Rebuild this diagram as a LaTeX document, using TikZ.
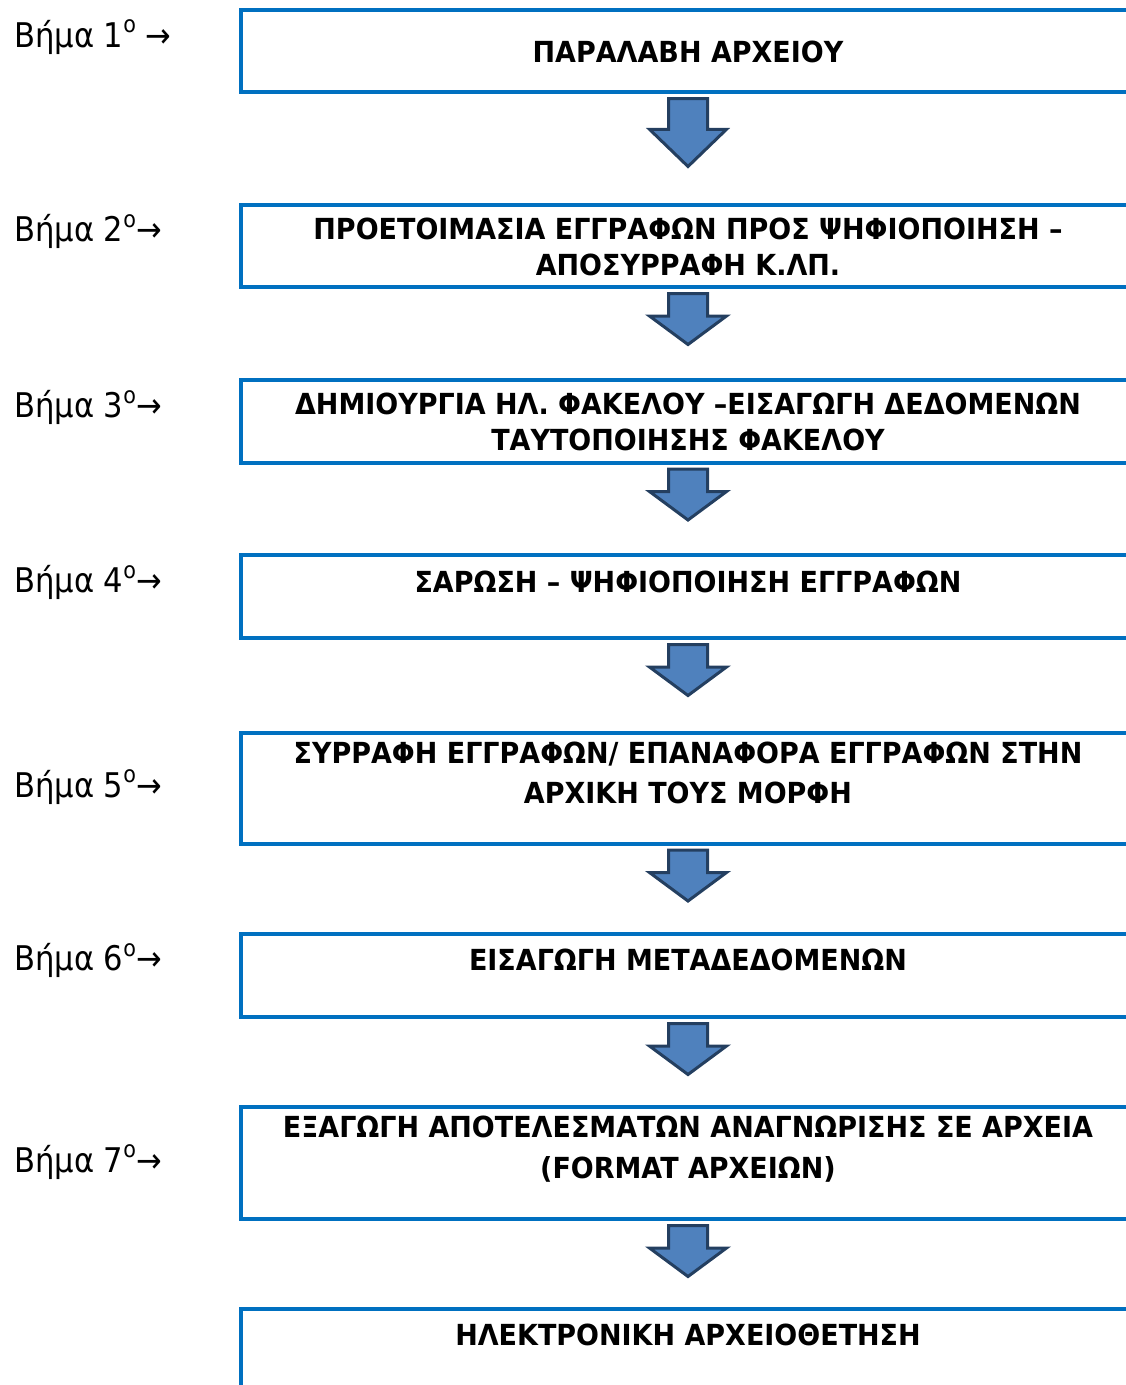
\documentclass[tikz,border=0pt]{standalone}
\usepackage{fontspec}
\setmainfont{DejaVu Sans}[FakeStretch=0.9]
\newfontfamily\boxfont{DejaVu Sans}[FakeStretch=0.93]
\usetikzlibrary{shapes.arrows, positioning}
\definecolor{boxLine}{HTML}{0070C0}
\definecolor{arrFill}{HTML}{4F81BD}
\definecolor{arrLine}{HTML}{243F60}
\newcommand{\ordo}{\raisebox{0.42em}{\fontsize{23}{23}\selectfont o}}
\tikzset{
  stepbox/.style={draw=boxLine, line width=4pt, minimum width=894pt, inner sep=0pt},
  steptext/.style={font=\boxfont\bfseries\fontsize{29}{36}\selectfont, align=center, anchor=base, inner sep=0pt},
  steplabel/.style={font=\fontsize{34}{40}\selectfont, anchor=base west, inner sep=0pt},
  downarrow/.style={single arrow, shape border rotate=270, draw=arrLine, fill=arrFill,
    line width=3pt, minimum width=74pt, single arrow head extend=19pt,
    inner xsep=18pt, inner ysep=0pt, anchor=tail},
}

\begin{document}
\begin{tikzpicture}[x=1pt, y=-1pt]
	\useasboundingbox (0,0) rectangle (1126,1385);
	\clip (0,0) rectangle (1126,1385);
	% boxes
	\node[stepbox, minimum height=82pt] (b1) at (688,51) {};
	\node[stepbox, minimum height=82pt] (b2) at (688,246) {};
	\node[stepbox, minimum height=83pt] (b3) at (688,421) {};
	\node[stepbox, minimum height=83pt] (b4) at (688,596.5) {};
	\node[stepbox, minimum height=111pt] (b5) at (688,788) {};
	\node[stepbox, minimum height=83pt] (b6) at (688,975.5) {};
	\node[stepbox, minimum height=112pt] (b7) at (688,1163) {};
	\node[stepbox, minimum height=82pt] (b8) at (688,1350) {};
	% texts (base = last line)
	\node[steptext] (t1) at (688,62.5) {ΠΑΡΑΛΑΒΗ ΑΡΧΕΙΟΥ};
	\node[steptext] (t2) at (688,275.5) {ΠΡΟΕΤΟΙΜΑΣΙΑ ΕΓΓΡΑΦΩΝ ΠΡΟΣ ΨΗΦΙΟΠΟΙΗΣΗ –\\ ΑΠΟΣΥΡΡΑΦΗ Κ.ΛΠ.};
	\node[steptext] (t3) at (688,450.5) {ΔΗΜΙΟΥΡΓΙΑ ΗΛ. ΦΑΚΕΛΟΥ –ΕΙΣΑΓΩΓΗ ΔΕΔΟΜΕΝΩΝ\\ ΤΑΥΤΟΠΟΙΗΣΗΣ ΦΑΚΕΛΟΥ};
	\node[steptext] (t4) at (688,592.5) {ΣΑΡΩΣΗ – ΨΗΦΙΟΠΟΙΗΣΗ ΕΓΓΡΑΦΩΝ};
	\node[steptext] (t5) at (688,803.5) {ΣΥΡΡΑΦΗ ΕΓΓΡΑΦΩΝ/ ΕΠΑΝΑΦΟΡΑ ΕΓΓΡΑΦΩΝ ΣΤΗΝ\\[4pt] ΑΡΧΙΚΗ ΤΟΥΣ ΜΟΡΦΗ};
	\node[steptext] (t6) at (688,970.5) {ΕΙΣΑΓΩΓΗ ΜΕΤΑΔΕΔΟΜΕΝΩΝ};
	\node[steptext] (t7) at (688,1178.5) {ΕΞΑΓΩΓΗ ΑΠΟΤΕΛΕΣΜΑΤΩΝ ΑΝΑΓΝΩΡΙΣΗΣ ΣΕ ΑΡΧΕΙΑ\\[5pt] (FORMAT ΑΡΧΕΙΩΝ)};
	\node[steptext] (t8) at (688,1345.5) {ΗΛΕΚΤΡΟΝΙΚΗ ΑΡΧΕΙΟΘΕΤΗΣΗ};
	% block arrows
	\node[downarrow, minimum height=68pt, single arrow tip angle=92] (a1) at ([yshift=-3pt]b1.south) {};
	\node[downarrow, minimum height=51pt, single arrow tip angle=107] (a2) at ([yshift=-3pt]b2.south) {};
	\node[downarrow, minimum height=51pt, single arrow tip angle=107] (a3) at ([yshift=-3pt]b3.south) {};
	\node[downarrow, minimum height=51pt, single arrow tip angle=107] (a4) at ([yshift=-3pt]b4.south) {};
	\node[downarrow, minimum height=51pt, single arrow tip angle=107] (a5) at ([yshift=-3pt]b5.south) {};
	\node[downarrow, minimum height=51pt, single arrow tip angle=107] (a6) at ([yshift=-3pt]b6.south) {};
	\node[downarrow, minimum height=51pt, single arrow tip angle=107] (a7) at ([yshift=-3pt]b7.south) {};
	% step labels
	\node[steplabel] (s1) at (14,47) {Βήμα 1\ordo\ →};
	\node[steplabel] (s2) at (14,241.5) {Βήμα 2\ordo→};
	\node[steplabel] (s3) at (14,417.5) {Βήμα 3\ordo→};
	\node[steplabel] (s4) at (14,592.5) {Βήμα 4\ordo→};
	\node[steplabel] (s5) at (14,797) {Βήμα 5\ordo→};
	\node[steplabel] (s6) at (14,970.5) {Βήμα 6\ordo→};
	\node[steplabel] (s7) at (14,1172) {Βήμα 7\ordo→};
\end{tikzpicture}
\end{document}
